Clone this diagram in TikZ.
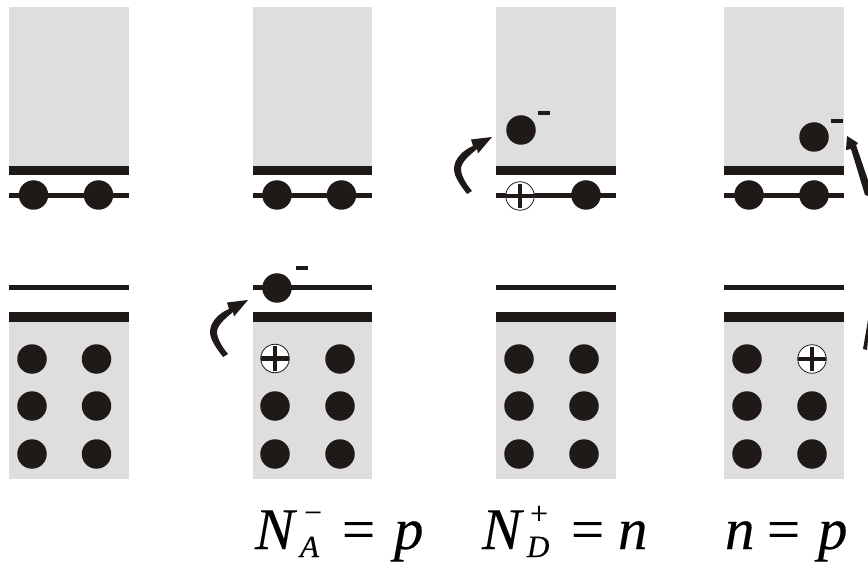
\documentclass[tikz,border=0pt]{standalone}
\usepackage{fontspec}
\setmainfont[ItalicFont={Liberation Serif Italic},ItalicFeatures={FakeBold=0.2},FakeBold=0.1]{Liberation Serif}
\definecolor{band}{HTML}{DDDEDD}
\definecolor{ink}{HTML}{1F1A17}
\tikzset{
  elec/.style={circle,fill=ink,draw=none,inner sep=0pt,outer sep=0pt,minimum size=29.5pt},
  holecirc/.style={circle,fill=white,draw=ink,line width=0.8pt,inner sep=0pt,outer sep=0pt,minimum size=28.5pt},
  plusbar/.style={draw=ink,line width=4.2pt},
  minusbar/.style={fill=ink,draw=none,inner sep=0pt,outer sep=0pt,minimum width=12pt,minimum height=4pt},
  bigm/.style={anchor=base west,inner sep=0pt,outer sep=0pt,text=black,font=\fontsize{59}{60}\selectfont},
  smallm/.style={anchor=base west,inner sep=0pt,outer sep=0pt,text=black,font=\fontsize{32}{34}\selectfont},
  subm/.style={anchor=base west,inner sep=0pt,outer sep=0pt,text=black,font=\fontsize{31}{33}\selectfont},
}
% #1 left edge: gray blocks, bars and lines of one panel
\newcommand{\panelbase}[1]{%
  \fill[band] (#1,7) rectangle ++(119.5,159);
  \fill[ink] (#1,166) rectangle ++(119.5,9);
  \fill[ink] (#1,193) rectangle ++(119.5,5);
  \fill[ink] (#1,285) rectangle ++(119.5,5);
  \fill[band] (#1,322) rectangle ++(119.5,157);
  \fill[ink] (#1,312) rectangle ++(119.5,10);
}
% #1 name, #2 x, #3 y
\newcommand{\holemark}[3]{%
  \node[holecirc] (#1) at (#2,#3) {};
  \draw[plusbar] (#1.west) -- (#1.east);
  \draw[plusbar,shorten <=2pt,shorten >=2pt] (#1.north) -- (#1.south);
}
\newcommand{\bentarrow}{%
  \fill[ink] (467,194) .. controls (461,186) and (454,177) .. (454,169)
    .. controls (454,159) and (463,150) .. (473,146)
    -- (471,139.5) -- (492,137) -- (478,153.5) -- (477,149)
    .. controls (470,155) and (461,162) .. (461,169)
    .. controls (461,176) and (467,185) .. (472,191) -- cycle;
}
\begin{document}
\begin{tikzpicture}[x=1pt,y=-1pt]
\useasboundingbox (0,0) rectangle (868,564);
\panelbase{9}
\panelbase{252.5}
\panelbase{496}
\panelbase{724}
% panel 1
\node[elec] (aT1) at (33.5,195) {};
\node[elec] (aT2) at (98.5,195) {};
\foreach \r/\y in {1/359,2/406,3/454}{
  \node[elec] (aL\r) at (32,\y) {};
  \node[elec] (aR\r) at (96.5,\y) {};
}
% panel 2
\node[elec] (bT1) at (277,195) {};
\node[elec] (bT2) at (341.5,195) {};
\node[elec] (bE) at (277,288) {};
\node[minusbar] (bM) at (301.5,268) {};
\holemark{bH}{275}{358.5}
\node[elec] (bR1) at (340,359) {};
\foreach \r/\y in {2/406,3/454}{
  \node[elec] (bL\r) at (275,\y) {};
  \node[elec] (bR\r) at (340,\y) {};
}
\begin{scope}[shift={(-244,163)}]\bentarrow\end{scope}
% panel 3
\holemark{cH}{520}{196}
\node[elec] (cT2) at (586,195) {};
\node[elec] (cE) at (521,130) {};
\node[minusbar] (cM) at (544,113) {};
\foreach \r/\y in {1/359,2/406,3/454}{
  \node[elec] (cL\r) at (519,\y) {};
  \node[elec] (cR\r) at (584,\y) {};
}
\bentarrow
% panel 4
\node[elec] (dT1) at (749,195) {};
\node[elec] (dT2) at (814,195) {};
\node[elec] (dE) at (814,137) {};
\node[minusbar] (dM) at (837,121) {};
\node[elec] (dL1) at (747,359) {};
\holemark{dH}{812}{359}
\foreach \r/\y in {2/406,3/454}{
  \node[elec] (dL\r) at (747,\y) {};
  \node[elec] (dR\r) at (812,\y) {};
}
\fill[ink] (847,136) -- (858,143) -- (856,145) -- (869,183) -- (868,196) -- (865,195) -- (851,149) -- (846,150) -- cycle;
\fill[ink] (868,320) -- (863,349) -- (867,350) -- (869,330) -- cycle;
% formulas
\node[bigm] (n1) at (255,549) {\itshape N};
\node[smallm] (s1) at (304,523) {−};
\node[subm] (a1) at (300,557) {\itshape A};
\node[bigm] (e1) at (342,549) {=};
\node[bigm] (p1) at (394,549) {\itshape p};
\node[bigm] (n2) at (482,549) {\itshape N};
\node[smallm] (s2) at (530,524) {+};
\node[subm] (a2) at (527,557) {\itshape D};
\node[bigm] (e2) at (571,549) {=};
\node[bigm] (p2) at (618,549) {\itshape n};
\node[bigm] (n3) at (725,549) {\itshape n};
\node[bigm] (e3) at (767,549) {=};
\node[bigm] (p3) at (818,549) {\itshape p};
\end{tikzpicture}
\end{document}
